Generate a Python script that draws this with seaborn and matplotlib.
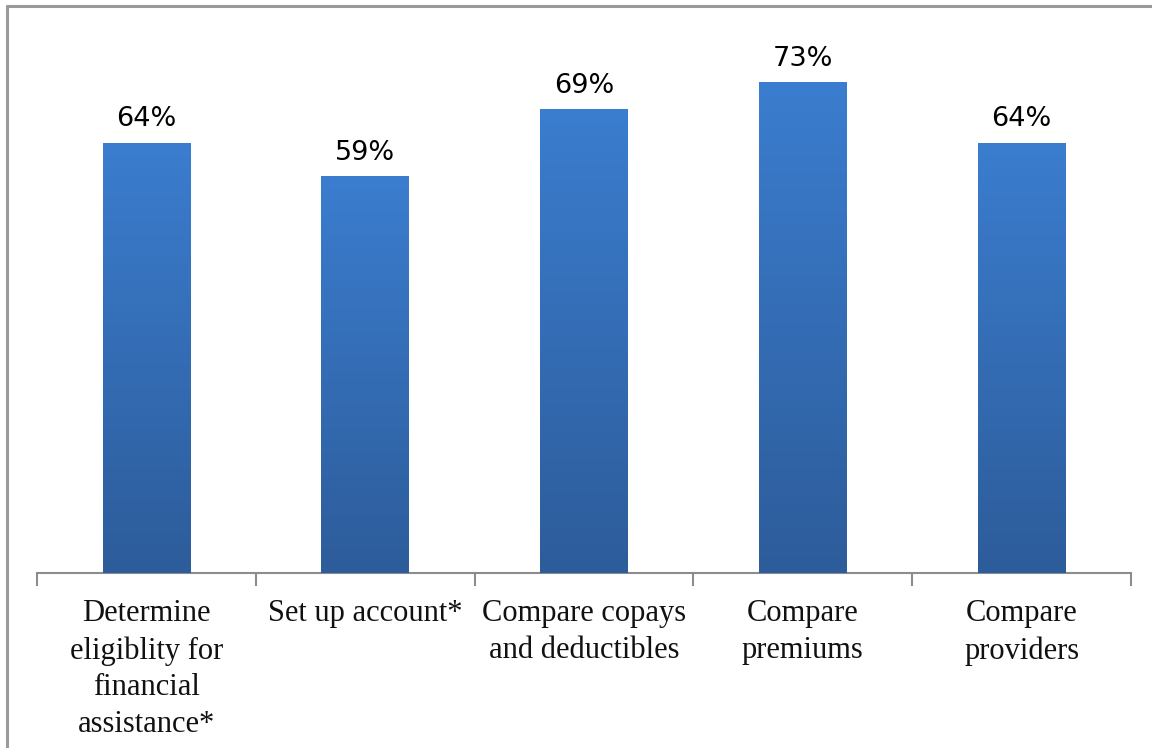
import matplotlib
matplotlib.use("Agg")
import matplotlib.pyplot as plt
import matplotlib.colors as mcolors
from matplotlib.lines import Line2D
import numpy as np
import pandas as pd
import seaborn as sns

categories = [
    "Determine\neligiblity for\nfinancial\nassistance*",
    "Set up account*",
    "Compare copays\nand deductibles",
    "Compare\npremiums",
    "Compare\nproviders",
]
values = [64, 59, 69, 73, 64]
value_labels = ["64%", "59%", "69%", "73%", "64%"]

sns.set_theme(style="white")
plt.rcParams["font.family"] = ["DejaVu Sans"]

df = pd.DataFrame({"task": categories, "pct": values})

fig = plt.figure(figsize=(11.52, 7.48), dpi=100)
W, H = 1152, 748
ax = fig.add_axes([37 / W, 1 - 573 / H, (1131 - 37) / W, (573 - 35) / H])

sns.barplot(data=df, x="task", y="pct", color="#3670b8", width=0.4,
            saturation=1, ax=ax)

ax.set_xlim(-0.5, len(categories) - 0.5)
ax.set_ylim(0, 80)

top_c = np.array(mcolors.to_rgb("#3b7dcf"))
bot_c = np.array(mcolors.to_rgb("#2d5c9a"))
grad = np.linspace(0, 1, 256)[:, None]
img = top_c[None, None, :] * (1 - grad[..., None]) + bot_c[None, None, :] * grad[..., None]

for p in ax.patches:
    x0, y0 = p.get_x(), p.get_y()
    w, h = p.get_width(), p.get_height()
    p.set_edgecolor("none")
    im = ax.imshow(img, extent=[x0, x0 + w, y0, y0 + h], aspect="auto",
                   origin="upper", zorder=3, interpolation="bilinear")
    im.set_clip_path(p)

for i, (v, lab) in enumerate(zip(values, value_labels)):
    ax.annotate(lab, (i, v), xytext=(0, 7.5), textcoords="offset points",
                ha="center", va="bottom", fontsize=19.5, color="#000000",
                family="DejaVu Sans")

for s in ["left", "right", "top"]:
    ax.spines[s].set_visible(False)
ax.spines["bottom"].set_color("#8c8c8c")
ax.spines["bottom"].set_linewidth(1.5)
ax.set_yticks([])
ax.set_xlabel("")
ax.set_ylabel("")

ax.set_xticks(range(len(categories)))
ax.set_xticklabels(categories, fontsize=22, family="Liberation Serif",
                   color="#111111", linespacing=1.35)
ax.tick_params(axis="x", which="major", length=0, pad=19)
ax.set_xticks(np.arange(-0.5, len(categories), 1.0), minor=True)
ax.tick_params(axis="x", which="minor", length=9, width=1.5, color="#8c8c8c",
               bottom=True)

fig.add_artist(Line2D([7 / W, 7 / W], [0, 1 - 6 / H], color="#9a9a9a", lw=2.2))
fig.add_artist(Line2D([7 / W, 1], [1 - 6 / H, 1 - 6 / H], color="#9a9a9a", lw=2.2))

fig.savefig("out.png", dpi=100, facecolor="white")
